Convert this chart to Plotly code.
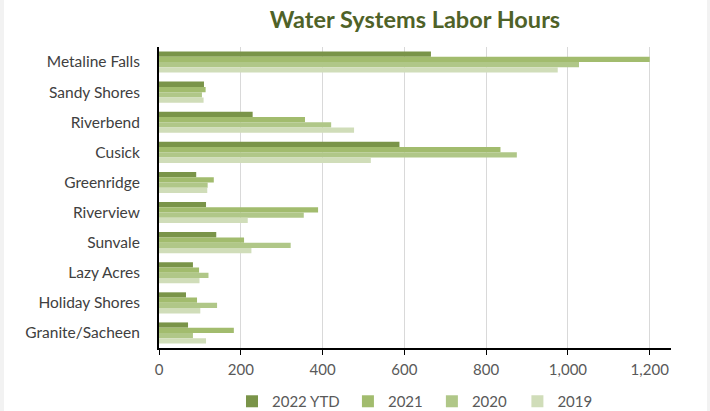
import plotly.graph_objects as go

categories = ["Metaline Falls", "Sandy Shores", "Riverbend", "Cusick", "Greenridge",
              "Riverview", "Sunvale", "Lazy Acres", "Holiday Shores", "Granite/Sacheen"]
series_names = ["2022 YTD", "2021", "2020", "2019"]
v2022 = [665, 110, 229, 588, 91, 115, 140, 83, 66, 71]
v2021 = [1200, 114, 357, 835, 134, 389, 208, 98, 93, 183]
v2020 = [1027, 105, 421, 875, 119, 354, 322, 121, 142, 83]
v2019 = [975, 109, 477, 518, 118, 217, 226, 99, 101, 115]
tick_vals = [0, 200, 400, 600, 800, 1000, 1200]
tick_text = ["0", "200", "400", "600", "800", "1,000", "1,200"]

colors = ["#7A9449", "#A2BC6E", "#B0C788", "#D0DDB9"]
values = [v2022, v2021, v2020, v2019]
legend_ids = ["legend", "legend2", "legend3", "legend4"]
legend_x = [0.1426, 0.369, 0.533, 0.700]

FONT = "Lato, 'Open Sans', sans-serif"

fig = go.Figure()
for name, vals, col, lid in zip(series_names, values, colors, legend_ids):
    fig.add_trace(go.Bar(
        y=categories, x=vals, name=name, orientation="h", legend=lid,
        showlegend=True,
        marker=dict(color=col, line=dict(width=0)),
    ))

legend_common = dict(orientation="h", xanchor="left", y=-0.123, yanchor="top",
                     font=dict(family=FONT, size=15, color="#595959"),
                     itemwidth=30, bgcolor="rgba(0,0,0,0)")
legends = {}
for lid, lx in zip(legend_ids, legend_x):
    legends[lid] = dict(legend_common, x=lx)

fig.update_layout(
    width=710, height=411,
    showlegend=True,
    margin=dict(l=159, r=39, t=47, b=63, autoexpand=False),
    paper_bgcolor="white", plot_bgcolor="white",
    barmode="group", bargap=0.3, bargroupgap=0,
    title=dict(text="<b>Water Systems Labor Hours</b>", x=0.5, xref="paper",
               y=0.951, yanchor="middle",
               font=dict(family=FONT, size=23.5, color="#4F6228")),
    font=dict(family=FONT, size=15.5, color="#595959"),
    xaxis=dict(range=[0, 1252], tickvals=tick_vals, ticktext=tick_text,
               showgrid=True, gridcolor="#D9D9D9", gridwidth=1,
               showline=True, linecolor="black", linewidth=2,
               ticks="outside", ticklen=5, tickcolor="black", tickwidth=1,
               ticklabelstandoff=2,
               zeroline=False, automargin=False,
               tickfont=dict(size=15, color="#595959")),
    yaxis=dict(autorange="reversed", showline=True, linecolor="black", linewidth=2,
               showgrid=False, ticks="", ticklabelstandoff=14, automargin=False,
               tickfont=dict(size=15.5, color="#404040")),
    shapes=[
        dict(type="rect", xref="paper", yref="paper", x0=-0.3105, x1=-0.3027,
             y0=-0.3, y1=1.3, fillcolor="#F2F2F2", line=dict(width=0), layer="below"),
        dict(type="rect", xref="paper", yref="paper", x0=1.0703, x1=1.08,
             y0=-0.3, y1=1.3, fillcolor="#F2F2F2", line=dict(width=0), layer="below"),
    ],
    **legends,
)

fig.write_html("out.html", config={"displayModeBar": False},
               post_script="document.body.style.margin='0';document.body.style.overflow='hidden';")
